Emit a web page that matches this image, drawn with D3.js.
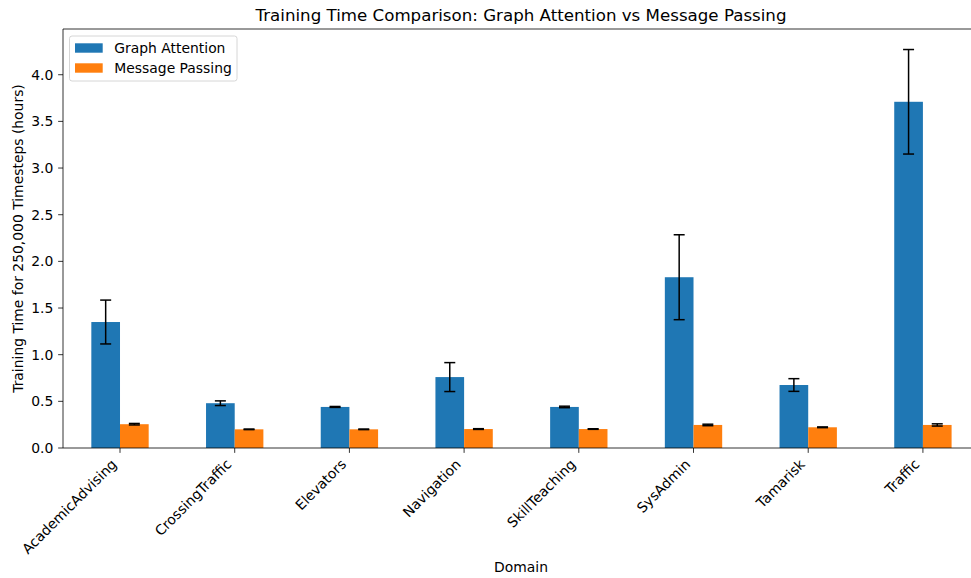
<!DOCTYPE html>
<html><head><meta charset="utf-8">
<script src="https://cdn.jsdelivr.net/npm/d3@7"></script>
<style>body{margin:0;background:#fff;} text{font-family:"DejaVu Sans",sans-serif;fill:#000;}</style>
</head><body>
<svg id="c" width="971" height="578"></svg>
<script>
const domains = ["AcademicAdvising","CrossingTraffic","Elevators","Navigation","SkillTeaching","SysAdmin","Tamarisk","Traffic"];
const attnMean = [1.35, 0.48, 0.44, 0.76, 0.44, 1.83, 0.675, 3.71];
const attnErr  = [0.235, 0.025, 0.005, 0.155, 0.008, 0.455, 0.068, 0.56];
const mpMean   = [0.255, 0.2, 0.2, 0.203, 0.203, 0.247, 0.222, 0.247];
const mpErr    = [0.008, 0.003, 0.003, 0.004, 0.003, 0.008, 0.004, 0.012];
const yTicks = [0,0.5,1,1.5,2,2.5,3,3.5,4];
const seriesNames = ["Graph Attention","Message Passing"];
const colors = ["#1f77b4","#ff7f0e"];

const FS = 13.9, TFS = 16.67;
const svg = d3.select("#c");
const L=63, R=979, T=29, B=448;
const x = d3.scaleLinear().domain([-0.497, 7.489]).range([L,R]);
const y = d3.scaleLinear().domain([0, 4.49]).range([B,T]);
const w = x(0.25)-x(0);

const g = svg.append("g");
const series = [
  {vals: attnMean, errs: attnErr, off: -0.25, color: colors[0]},
  {vals: mpMean, errs: mpErr, off: 0, color: colors[1]}
];
series.forEach(s=>{
  g.selectAll(null).data(s.vals).enter().append("rect")
    .attr("x",(d,i)=>x(i+s.off)).attr("width",w)
    .attr("y",d=>y(d)).attr("height",d=>y(0)-y(d)).attr("fill",s.color);
});
series.forEach(s=>{
  s.vals.forEach((v,i)=>{
    const cx = x(i+s.off+0.125);
    const y1=y(v+s.errs[i]), y2=y(v-s.errs[i]);
    g.append("line").attr("x1",cx).attr("x2",cx).attr("y1",y1).attr("y2",y2).attr("stroke","#000").attr("stroke-width",1.5);
    [y1,y2].forEach(yy=>g.append("line").attr("x1",cx-5.5).attr("x2",cx+5.5).attr("y1",yy).attr("y2",yy).attr("stroke","#000").attr("stroke-width",1.5));
  });
});

// axes
const ax = svg.append("g");
ax.append("line").attr("x1",L).attr("x2",L).attr("y1",T).attr("y2",B).attr("stroke","#000").attr("stroke-width",0.8);
ax.append("line").attr("x1",L).attr("x2",R).attr("y1",B).attr("y2",B).attr("stroke","#000").attr("stroke-width",0.8);
ax.append("line").attr("x1",L).attr("x2",R).attr("y1",T).attr("y2",T).attr("stroke","#000").attr("stroke-width",0.8);
ax.append("line").attr("x1",R).attr("x2",R).attr("y1",T).attr("y2",B).attr("stroke","#000").attr("stroke-width",0.8);

yTicks.forEach(t=>{
  ax.append("line").attr("x1",L-4.86).attr("x2",L).attr("y1",y(t)).attr("y2",y(t)).attr("stroke","#000").attr("stroke-width",0.8);
  ax.append("text").attr("x",L-9.7).attr("y",y(t)).attr("dy","0.35em").attr("text-anchor","end").attr("font-size",FS).text(d3.format(".1f")(t));
});
domains.forEach((d,i)=>{
  const xx = x(i);
  ax.append("line").attr("x1",xx).attr("x2",xx).attr("y1",B).attr("y2",B+4.86).attr("stroke","#000").attr("stroke-width",0.8);
  ax.append("text").attr("transform",`translate(${xx-2.4},${B+17.2}) rotate(-45)`).attr("text-anchor","end").attr("font-size",FS).text(d);
});

svg.append("text").attr("x",(L+R)/2).attr("y",21).attr("text-anchor","middle").attr("font-size",TFS).text("Training Time Comparison: Graph Attention vs Message Passing");
svg.append("text").attr("x",(L+R)/2).attr("y",572).attr("text-anchor","middle").attr("font-size",FS).text("Domain");
svg.append("text").attr("transform",`translate(22.5,${(T+B)/2}) rotate(-90)`).attr("text-anchor","middle").attr("font-size",FS).text("Training Time for 250,000 Timesteps (hours)");

// legend
const lg = svg.append("g");
lg.append("rect").attr("x",69.5).attr("y",36).attr("width",167.5).attr("height",45).attr("rx",2.5).attr("fill","#fff").attr("fill-opacity",0.8).attr("stroke","#ccc").attr("stroke-width",0.8);
seriesNames.forEach((n,i)=>{
  lg.append("rect").attr("x",75).attr("y",43.3+i*20).attr("width",27.7).attr("height",9.4).attr("fill",colors[i]);
  lg.append("text").attr("x",114.3).attr("y",48+i*20).attr("dy","0.35em").attr("font-size",FS).text(n);
});
</script>
</body></html>
